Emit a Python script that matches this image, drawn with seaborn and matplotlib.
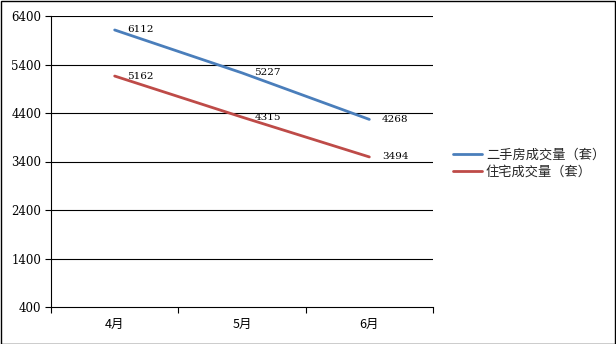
import matplotlib
matplotlib.use("Agg")
import matplotlib.pyplot as plt
import seaborn as sns
import pandas as pd
from matplotlib.patches import Rectangle

months = ["4月", "5月", "6月"]
series_names = ["二手房成交量（套）", "住宅成交量（套）"]
second_hand = [6112, 5227, 4268]
residential = [5162, 4315, 3494]
yticks = [400, 1400, 2400, 3400, 4400, 5400, 6400]
colors = ["#4A7EBB", "#BE4B48"]

sns.set_theme(style="white")
plt.rcParams["font.family"] = ["Noto Sans CJK SC", "DejaVu Sans"]
num_font = ["DejaVu Serif", "Noto Sans CJK SC"]

df = pd.DataFrame({
    "month": months * 2,
    "value": second_hand + residential,
    "series": [series_names[0]] * 3 + [series_names[1]] * 3,
})

fig = plt.figure(figsize=(6.16, 3.44), dpi=100)
ax = fig.add_axes([51 / 616, 1 - 307 / 344, (433 - 51) / 616, (307 - 16) / 344])

sns.lineplot(data=df, x="month", y="value", hue="series", palette=colors,
             linewidth=2.0, ax=ax, sort=False)

ax.set_xlim(-0.5, 2.5)
ax.set_ylim(400, 6400)
ax.set_yticks(yticks)
ax.set_yticklabels([str(v) for v in yticks], fontsize=8.5, color="black", family=num_font)
ax.set_xticks(range(len(months)))
ax.set_xticklabels(months, fontsize=9, color="black")
ax.set_xticks([-0.5, 0.5, 1.5, 2.5], minor=True)
ax.tick_params(axis="x", which="major", length=0, pad=8)
ax.tick_params(axis="x", which="minor", length=4, width=0.8, color="black", direction="out", bottom=True)
ax.tick_params(axis="y", which="major", length=4, width=0.8, color="black", direction="out", left=True, pad=3)
ax.set_xlabel("")
ax.set_ylabel("")
ax.grid(False)
for y in yticks[1:]:
    ax.axhline(y, color="black", linewidth=0.8, zorder=0)
for s in ["top", "right"]:
    ax.spines[s].set_visible(False)
for s in ["left", "bottom"]:
    ax.spines[s].set_color("black")
    ax.spines[s].set_linewidth(0.8)

for vals in (second_hand, residential):
    for i, v in enumerate(vals):
        ax.annotate(str(v), xy=(i, v), xytext=(9, 0), textcoords="offset points",
                    ha="left", va="center", fontsize=7.5, color="black", family=num_font)

handles, labels = ax.get_legend_handles_labels()
ax.legend(handles, labels, loc="center left", bbox_to_anchor=(453 / 616, 1 - 163.5 / 344),
          bbox_transform=fig.transFigure, frameon=False, fontsize=9.5,
          handlelength=2.2, handletextpad=0.3, labelspacing=0.3, borderaxespad=0,
          borderpad=0)

fig.patches.append(Rectangle((0.5 / 616, 0.5 / 344), 1 - 1.5 / 616, 1 - 1.5 / 344,
                             transform=fig.transFigure, fill=False,
                             edgecolor="black", linewidth=1.0))

fig.savefig("out.png", dpi=100)
